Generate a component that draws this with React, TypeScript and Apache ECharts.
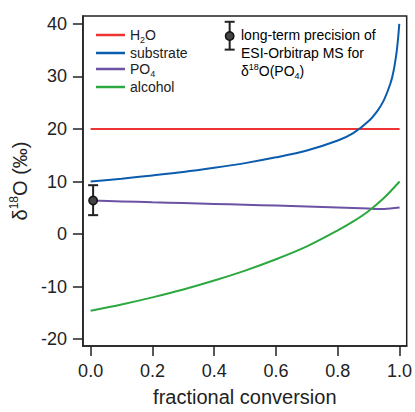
import React, { useEffect, useRef } from "react";
import * as echarts from "echarts";

const xTicks = [0, 0.2, 0.4, 0.6, 0.8, 1.0];
const yTicks = [-20, -10, 0, 10, 20, 30, 40];

const h2oX = [0, 1];
const h2oY = [20, 20];

const substrateX = [0, 0.1, 0.2, 0.3, 0.4, 0.5, 0.6, 0.7, 0.8, 0.85, 0.9, 0.93, 0.95, 0.97, 0.98, 0.99, 0.995, 0.999];
const substrateY = [10.0, 10.55, 11.15, 11.8, 12.6, 13.5, 14.6, 15.9, 17.8, 19.2, 21.5, 23.6, 25.6, 28.6, 30.9, 34.5, 37.2, 40.0];

const po4X = [0, 0.1, 0.2, 0.3, 0.4, 0.5, 0.6, 0.7, 0.8, 0.9, 0.95, 1.0];
const po4Y = [6.4, 6.22, 6.05, 5.9, 5.74, 5.58, 5.42, 5.25, 5.05, 4.85, 4.78, 5.05];

const alcoholX = [0, 0.1, 0.2, 0.3, 0.4, 0.5, 0.6, 0.7, 0.8, 0.85, 0.9, 0.95, 1.0];
const alcoholY = [-14.6, -13.4, -12.05, -10.55, -8.85, -6.95, -4.8, -2.35, 0.7, 2.4, 4.4, 6.9, 10.0];

// [x, center, low, high]
const errorBars = [
  [0.008, 6.4, 3.6, 9.3],
  [0.45, 37.7, 35.1, 40.4],
];

const seriesNames = ["H2O", "substrate", "PO4", "alcohol"];
const seriesColors = ["#ee3333", "#0b5cad", "#6b52a5", "#2ca840"];

const FONT = "'Liberation Sans', Arial, sans-serif";
const INK = "#222222";

function pairs(xs: number[], ys: number[]) {
  return xs.map((x, i) => [x, ys[i]]);
}

export default function App() {
  const ref = useRef<HTMLDivElement>(null);
  useEffect(() => {
    if (!ref.current) return;
    const chart = echarts.init(ref.current, undefined, { renderer: "svg" });
    const lineSeries = [
      pairs(h2oX, h2oY),
      pairs(substrateX, substrateY),
      pairs(po4X, po4Y),
      pairs(alcoholX, alcoholY),
    ].map((data, i) => ({
      name: seriesNames[i],
      type: "line",
      data,
      smooth: i === 0 ? false : 0.3,
      symbol: "none",
      lineStyle: { color: seriesColors[i], width: 2 },
      itemStyle: { color: seriesColors[i] },
      z: 2,
    }));
    const richBase = {
      n: { fontSize: 14, lineHeight: 18, color: INK, fontFamily: FONT },
      sub: { fontSize: 9, lineHeight: 10, verticalAlign: "bottom", color: INK, fontFamily: FONT },
      sup: { fontSize: 9, lineHeight: 10, verticalAlign: "top", color: INK, fontFamily: FONT },
    };
    chart.setOption({
      animation: false,
      textStyle: { fontFamily: FONT },
      grid: {
        left: 78,
        right: 5,
        top: 16,
        bottom: 64,
        show: true,
        borderColor: INK,
        borderWidth: 1.5,
        containLabel: false,
      },
      legend: {
        data: seriesNames,
        orient: "vertical",
        left: 96,
        top: 28,
        padding: 0,
        icon: "rect",
        itemWidth: 29,
        itemHeight: 2.5,
        itemGap: 2,
        formatter: (name: string) => {
          if (name === "H2O") return "{n|H}{sub|2}{n|O}";
          if (name === "PO4") return "{n|PO}{sub|4}";
          return "{n|" + name + "}";
        },
        textStyle: { rich: richBase },
      },
      xAxis: {
        type: "value",
        min: -0.025,
        max: 1.023,
        name: "fractional conversion",
        nameLocation: "middle",
        nameGap: 41,
        nameTextStyle: { fontSize: 20, color: INK, fontFamily: FONT },
        axisLine: { show: true, onZero: false, lineStyle: { color: INK, width: 1.5 } },
        axisTick: {
          show: true,
          inside: false,
          length: 10,
          customValues: xTicks,
          lineStyle: { color: INK, width: 1.5 },
        },
        axisLabel: {
          customValues: xTicks,
          formatter: (v: number) => v.toFixed(1),
          fontSize: 18,
          color: INK,
          margin: 16,
        },
        splitLine: { show: false },
      },
      yAxis: {
        type: "value",
        min: -21.3,
        max: 41.5,
        name: "{n|δ}{sup|18}{n|O (‰)}",
        nameLocation: "middle",
        nameGap: 47,
        nameRotate: 90,
        nameTextStyle: {
          rich: {
            n: { fontSize: 20, lineHeight: 24, color: INK, fontFamily: FONT },
            sup: { fontSize: 12, lineHeight: 13, verticalAlign: "top", color: INK, fontFamily: FONT },
          },
        },
        axisLine: { show: true, onZero: false, lineStyle: { color: INK, width: 1.5 } },
        axisTick: {
          show: true,
          inside: false,
          length: 10,
          customValues: yTicks,
          lineStyle: { color: INK, width: 1.5 },
        },
        axisLabel: {
          customValues: yTicks,
          fontSize: 18,
          color: INK,
          margin: 16,
        },
        splitLine: { show: false },
      },
      graphic: [
        {
          type: "text",
          left: 241,
          top: 28,
          style: {
            text: "{n|long-term precision of}\n{n|ESI-Orbitrap MS for}\n{n|δ}{sup|18}{n|O(PO}{sub|4}{n|)}",
            rich: richBase,
          },
        },
      ],
      series: [
        ...lineSeries,
        {
          name: "precision",
          type: "custom",
          clip: false,
          z: 5,
          data: errorBars,
          renderItem: (params: any, api: any) => {
            const x = api.value(0);
            const pc = api.coord([x, api.value(1)]);
            const pl = api.coord([x, api.value(2)]);
            const ph = api.coord([x, api.value(3)]);
            const w = 5;
            const st = { stroke: INK, lineWidth: 2 };
            return {
              type: "group",
              children: [
                { type: "line", shape: { x1: pl[0], y1: pl[1], x2: ph[0], y2: ph[1] }, style: st },
                { type: "line", shape: { x1: pl[0] - w, y1: pl[1], x2: pl[0] + w, y2: pl[1] }, style: st },
                { type: "line", shape: { x1: ph[0] - w, y1: ph[1], x2: ph[0] + w, y2: ph[1] }, style: st },
                { type: "circle", shape: { cx: pc[0], cy: pc[1], r: 4.2 }, style: { fill: "#444", stroke: "#111", lineWidth: 1.5 } },
              ],
            };
          },
        },
      ],
    });
    return () => chart.dispose();
  }, []);
  return (
    <div
      ref={ref}
      style={{ position: "fixed", left: 0, top: 0, width: 415, height: 412, background: "#fff" }}
    />
  );
}
